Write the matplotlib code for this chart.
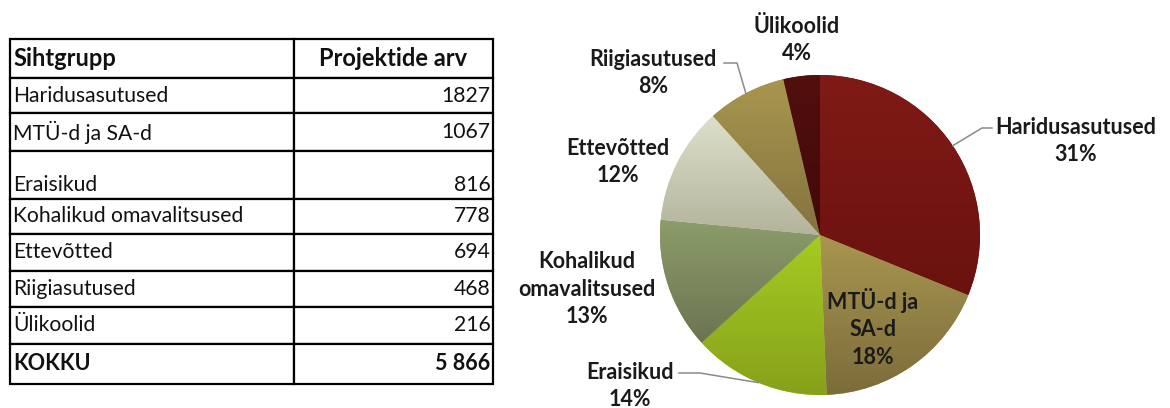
import numpy as np
import matplotlib
matplotlib.use("Agg")
import matplotlib.pyplot as plt
from matplotlib.table import Table
from matplotlib.colors import to_rgb

# data
groups = ["Haridusasutused", "MTÜ-d ja SA-d", "Eraisikud", "Kohalikud omavalitsused",
          "Ettevõtted", "Riigiasutused", "Ülikoolid"]
counts = [1827, 1067, 816, 778, 694, 468, 216]
pie_labels = ["Haridusasutused", "MTÜ-d ja\nSA-d", "Eraisikud", "Kohalikud\nomavalitsused",
              "Ettevõtted", "Riigiasutused", "Ülikoolid"]
col_heads = ["Sihtgrupp", "Projektide arv"]
total_label = "KOKKU"

top_colors = ["#801a16", "#a8964f", "#a6cb22", "#8c9c6a", "#dcdfca", "#a8964f", "#520f0e"]
bot_colors = ["#6a120f", "#7c6c3b", "#86a11a", "#6b7451", "#b4b49c", "#857340", "#420909"]

plt.rcParams['font.family'] = ['Lato', 'DejaVu Sans']

fig = plt.figure(figsize=(11.7, 4.08), dpi=100)
W, H = 1170, 408

# ---------- table ----------
tx0, tx1, ty0, ty1 = 10, 493, 39, 384
tax = fig.add_axes([tx0 / W, 1 - ty1 / H, (tx1 - tx0) / W, (ty1 - ty0) / H])
tax.set_axis_off()
row_px = [39, 35, 38, 48, 35, 37, 36, 37, 40]
tot_h = sum(row_px)
col_w = [284 / 483, 199 / 483]
tbl = Table(tax, bbox=None)

def add_row(r, left, right, bold=False, right_loc='right', size=15.2, va='center'):
    h = row_px[r] / tot_h
    c0 = tbl.add_cell(r, 0, col_w[0], h, text=left, loc='left')
    c1 = tbl.add_cell(r, 1, col_w[1], h, text=right, loc=right_loc)
    for c in (c0, c1):
        c.set_linewidth(1.6)
        c.set_edgecolor('black')
        c.PAD = 0.012
        c.get_text().set_fontsize(size)
        c.get_text().set_color('#111111')
        c.get_text().set_va(va)
        if bold:
            c.get_text().set_fontweight('bold')

add_row(0, col_heads[0], col_heads[1], bold=True, right_loc='center', size=17)
for i, (g, n) in enumerate(zip(groups, counts)):
    # the taller "Eraisikud" row has its text sitting low
    add_row(i + 1, g, str(n), va='top' if row_px[i + 1] > 45 else 'center')
total = sum(counts)
add_row(len(groups) + 1, total_label, f"{total:,}".replace(",", " "), bold=True, size=15.5)
tbl.auto_set_font_size(False)
tax.add_table(tbl)

# ---------- pie ----------
cx, cy, R = 820, 235, 160  # pixel centre / radius
ax0 = 500
pax = fig.add_axes([ax0 / W, 0, (W - ax0) / W, 1])
pax.set_axis_off()
wedges, _ = pax.pie(counts, startangle=90, counterclock=False, radius=1.0,
                    wedgeprops=dict(linewidth=0))
for w, ct, cb in zip(wedges, top_colors, bot_colors):
    w.set_facecolor(ct)
    v = w.get_path().vertices
    xmin, xmax = v[:, 0].min(), v[:, 0].max()
    ymin, ymax = v[:, 1].min(), v[:, 1].max()
    t = np.linspace(0, 1, 128)[:, None]
    grad = (1 - t) * np.array(to_rgb(ct)) + t * np.array(to_rgb(cb))
    im = pax.imshow(grad[:, None, :], extent=(xmin, xmax, ymin, ymax), origin='upper',
                    aspect='auto', interpolation='bilinear', zorder=2)
    im.set_clip_path(w)

pax.set_xlim(-(cx - ax0) / R, (W - cx) / R)
pax.set_ylim(-(H - cy) / R, cy / R)
pax.set_aspect('auto')


def px(x, y):
    return (x - cx) / R, (cy - y) / R

label_pos = [(1076, 141), (873, 328), (630, 386), (587, 289), (618, 162), (653, 73), (797, 40)]
pcts = [round(100 * c / total) for c in counts]
for lab, p, pos in zip(pie_labels, pcts, label_pos):
    x, y = px(*pos)
    pax.text(x, y, f"{lab}\n{p}%", ha='center', va='center', fontsize=15.5,
             fontweight='bold', color='#1a1a1a', linespacing=1.38, zorder=5)

# leader lines: (wedge index, points near label in pixels)
leaders = {0: [(992, 128), (982, 128)], 5: [(724, 63), (737, 63)], 2: [(679, 373), (700, 373)]}
for i, pts in leaders.items():
    w = wedges[i]
    mid = np.deg2rad((w.theta1 + w.theta2) / 2)
    xs = [px(*p)[0] for p in pts] + [np.cos(mid)]
    ys = [px(*p)[1] for p in pts] + [np.sin(mid)]
    pax.plot(xs, ys, color='#8a8a8a', lw=1.1, zorder=4)

fig.savefig("out.png", dpi=100)
